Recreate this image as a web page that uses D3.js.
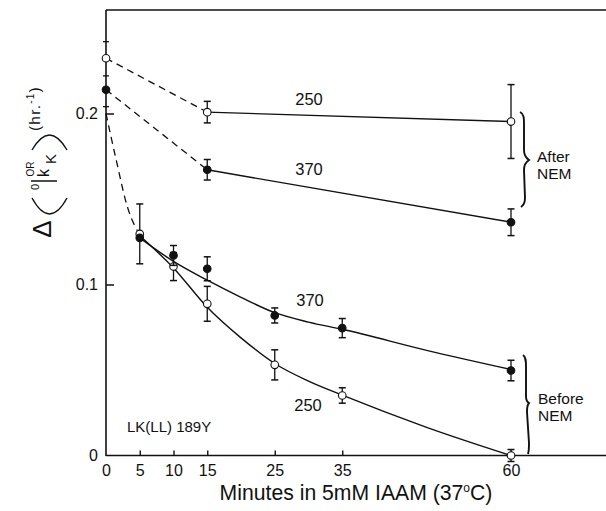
<!DOCTYPE html>
<html>
<head>
<meta charset="utf-8">
<script src="https://cdn.jsdelivr.net/npm/d3@7"></script>
<style>
  html, body { margin: 0; padding: 0; background: #fff; }
  svg { display: block; }
  text { font-family: "Liberation Sans", Arial, Helvetica, sans-serif; fill: #111; }
</style>
</head>
<body>
<svg id="chart" width="606" height="511"></svg>
<script>
// Time points (minutes in IAAM) and tick labels
const xTickValues = [0, 5, 10, 15, 25, 35, 60];
const xTickLabels = ["0", "5", "10", "15", "25", "35", "60"];
const yTickValues = [0, 0.1, 0.2];
const yTickLabels = ["0", "0.1", "0.2"];
const yMinorTicks = [0.204, 0.222, 0.242];

// After NEM
const after250X = [0, 15, 60];
const after250Y = [0.2323, 0.2008, 0.1953];
const after250Err = [0, 0.0063, 0.0216];
const after370X = [0, 15, 60];
const after370Y = [0.2139, 0.1671, 0.1364];
const after370Err = [0, 0.006, 0.0078];

// Before NEM
const before370X = [5, 10, 15, 25, 35, 60];
const before370Y = [0.1273, 0.117, 0.1092, 0.0819, 0.0745, 0.0497];
const before370Err = [0, 0.0058, 0.007, 0.0044, 0.0056, 0.006];
const before250X = [5, 10, 15, 25, 35, 60];
const before250Y = [0.1296, 0.1105, 0.0887, 0.053, 0.0351, 0.0];
const before250Err = [0.0175, 0.0082, 0.0102, 0.0088, 0.0045, 0.0035];

// Hand-fitted smooth curves through the before-NEM data
const fit370X = [5, 10, 15, 20, 25, 30, 35, 47.5, 60];
const fit370Y = [0.1273, 0.1135, 0.1025, 0.0925, 0.0835, 0.078, 0.0738, 0.0615, 0.0503];
const fit250X = [5, 10, 15, 20, 25, 30, 35, 47.5, 60];
const fit250Y = [0.1285, 0.1097, 0.0867, 0.0688, 0.0538, 0.0435, 0.0353, 0.0165, 0.0];

// Dashed extrapolation from time zero to the first before-NEM point
const dropX = [0, 1.5, 3.2, 5];
const dropY = [0.2, 0.173, 0.145, 0.129];

const svg = d3.select("#chart");
const plotLeft = 106, plotTop = 10, plotBottom = 455.5, plotRight = 606;

const x = d3.scaleLinear().domain([0, 60]).range([106, 511]);
const y = d3.scaleLinear().domain([0, 0.26]).range([plotBottom, 10.9]);

const ink = "#111";

// Frame: left axis, top rule, bottom rule
svg.append("line").attr("x1", plotLeft).attr("x2", plotLeft).attr("y1", plotTop).attr("y2", plotBottom + 0.5)
  .attr("stroke", ink).attr("stroke-width", 1.6);
svg.append("line").attr("x1", plotLeft).attr("x2", plotRight).attr("y1", plotTop).attr("y2", plotTop)
  .attr("stroke", ink).attr("stroke-width", 1.5);
svg.append("line").attr("x1", plotLeft).attr("x2", plotRight).attr("y1", plotBottom).attr("y2", plotBottom)
  .attr("stroke", ink).attr("stroke-width", 1.5);

// X axis
const xAxis = d3.axisBottom(x)
  .tickValues(xTickValues)
  .tickFormat((d, i) => xTickLabels[i])
  .tickSizeInner(-5).tickSizeOuter(0).tickPadding(9);
const gx = svg.append("g").attr("transform", `translate(0,${plotBottom})`).call(xAxis);
gx.select(".domain").remove();
gx.selectAll(".tick line").attr("stroke", ink).attr("stroke-width", 1.4)
  .filter(d => d === 0).remove();
gx.selectAll(".tick text").attr("font-size", 16).attr("fill", ink)
  .style("font-family", "'Liberation Sans', Arial, sans-serif");

// Y axis
const yAxis = d3.axisLeft(y)
  .tickValues(yTickValues)
  .tickFormat((d, i) => yTickLabels[i])
  .tickSizeInner(-8).tickSizeOuter(0).tickPadding(8);
const gy = svg.append("g").attr("transform", `translate(${plotLeft},0)`).call(yAxis);
gy.select(".domain").remove();
gy.selectAll(".tick line").attr("stroke", ink).attr("stroke-width", 1.5)
  .filter(d => d === 0).remove();
gy.selectAll(".tick text").attr("font-size", 16).attr("fill", ink)
  .style("font-family", "'Liberation Sans', Arial, sans-serif");

// Minor ticks crossing the y axis
svg.append("g").selectAll("line").data(yMinorTicks).join("line")
  .attr("x1", plotLeft - 3).attr("x2", plotLeft + 3)
  .attr("y1", d => y(d)).attr("y2", d => y(d))
  .attr("stroke", ink).attr("stroke-width", 1.3);

const zip = (xs, ys) => xs.map((v, i) => [v, ys[i]]);
const line = d3.line().x(d => x(d[0])).y(d => y(d[1]));
const smooth = d3.line().x(d => x(d[0])).y(d => y(d[1])).curve(d3.curveMonotoneX);

// Dashed segments
svg.append("path").attr("d", line(zip(after250X.slice(0, 2), after250Y.slice(0, 2))))
  .attr("fill", "none").attr("stroke", ink).attr("stroke-width", 1.3).attr("stroke-dasharray", "7,5");
svg.append("path").attr("d", line(zip(after370X.slice(0, 2), after370Y.slice(0, 2))))
  .attr("fill", "none").attr("stroke", ink).attr("stroke-width", 1.3).attr("stroke-dasharray", "7,5");
svg.append("path").attr("d", smooth(zip(dropX, dropY)))
  .attr("fill", "none").attr("stroke", ink).attr("stroke-width", 1.3).attr("stroke-dasharray", "7,5");

// Solid after-NEM segments
svg.append("path").attr("d", line(zip(after250X.slice(1), after250Y.slice(1))))
  .attr("fill", "none").attr("stroke", ink).attr("stroke-width", 1.4);
svg.append("path").attr("d", line(zip(after370X.slice(1), after370Y.slice(1))))
  .attr("fill", "none").attr("stroke", ink).attr("stroke-width", 1.4);

// Fitted before-NEM curves
svg.append("path").attr("d", smooth(zip(fit370X, fit370Y)))
  .attr("fill", "none").attr("stroke", ink).attr("stroke-width", 1.4);
svg.append("path").attr("d", smooth(zip(fit250X, fit250Y)))
  .attr("fill", "none").attr("stroke", ink).attr("stroke-width", 1.4);

// Error bars and markers
function series(xs, ys, errs, filled) {
  const data = xs.map((v, i) => ({ x: v, y: ys[i], e: errs[i] }));
  const g = svg.append("g");
  const eb = g.selectAll("g.eb").data(data.filter(d => d.e > 0)).join("g");
  eb.append("line")
    .attr("x1", d => x(d.x)).attr("x2", d => x(d.x))
    .attr("y1", d => y(d.y + d.e)).attr("y2", d => y(d.y - d.e))
    .attr("stroke", ink).attr("stroke-width", 1.3);
  eb.append("line")
    .attr("x1", d => x(d.x) - 3.5).attr("x2", d => x(d.x) + 3.5)
    .attr("y1", d => y(d.y + d.e)).attr("y2", d => y(d.y + d.e))
    .attr("stroke", ink).attr("stroke-width", 1.5);
  eb.append("line")
    .attr("x1", d => x(d.x) - 3.5).attr("x2", d => x(d.x) + 3.5)
    .attr("y1", d => y(d.y - d.e)).attr("y2", d => y(d.y - d.e))
    .attr("stroke", ink).attr("stroke-width", 1.5);
  g.selectAll("circle").data(data).join("circle")
    .attr("cx", d => x(d.x)).attr("cy", d => y(d.y)).attr("r", 3.8)
    .attr("fill", filled ? ink : "#fff").attr("stroke", ink).attr("stroke-width", 1.1);
}
series(after250X, after250Y, after250Err, false);
series(after370X, after370Y, after370Err, true);
series(before250X, before250Y, before250Err, false);
series(before370X, before370Y, before370Err, true);

// Curve labels
const lab = (t, cx, cy, fs) => svg.append("text").attr("x", cx).attr("y", cy)
  .attr("text-anchor", "middle").attr("dominant-baseline", "central")
  .attr("font-size", fs).text(t);
lab("250", 309, 99, 16.5);
lab("370", 309, 169, 16.5);
lab("370", 310, 300, 16.5);
lab("250", 308, 405, 16.5);
svg.append("text").attr("x", 127).attr("y", 432).attr("font-size", 15).text("LK(LL) 189Y");

// Braces with group labels
svg.append("path")
  .attr("d", "M520,112 C524,114 524,118 524,124 L524,150 C524,156 526,158 529,160 C526,162 524,164 524,170 L525,198 C525,203 524,205 521,207")
  .attr("fill", "none").attr("stroke", ink).attr("stroke-width", 1.9);
svg.append("path")
  .attr("d", "M523,355 C526,357 526,361 526,367 L526,396 C526,400 527,402 529,403 C527,405 527,408 527,412 L529,443 C529,448 529,451 528,454")
  .attr("fill", "none").attr("stroke", ink).attr("stroke-width", 1.9);
svg.append("text").attr("x", 537).attr("y", 162).attr("font-size", 15.5).text("After");
svg.append("text").attr("x", 537).attr("y", 178.5).attr("font-size", 15.5).text("NEM");
svg.append("text").attr("x", 538).attr("y", 403.5).attr("font-size", 15.5).text("Before");
svg.append("text").attr("x", 538).attr("y", 421).attr("font-size", 15.5).text("NEM");

// X axis title
const xt = svg.append("text").attr("x", 356).attr("y", 500).attr("text-anchor", "middle")
  .attr("font-size", 21.2);
xt.append("tspan").text("Minutes in 5mM IAAM (37");
xt.append("tspan").attr("font-size", 12).attr("dy", -8).text("o");
xt.append("tspan").attr("dy", 8).text("C)");

// Y axis title, built piece by piece and rotated
const rot = (t, cx, cy, fs) => svg.append("text")
  .attr("transform", `translate(${cx},${cy}) rotate(-90)`)
  .attr("text-anchor", "middle").attr("dominant-baseline", "central")
  .attr("font-size", fs).text(t);
rot("\u0394", 42, 229, 26);
svg.append("path").attr("d", "M32,198 Q49.5,230 67,198")
  .attr("fill", "none").attr("stroke", ink).attr("stroke-width", 1.4);
rot("0", 35, 187, 11);
svg.append("line").attr("x1", 31).attr("x2", 57).attr("y1", 181).attr("y2", 181)
  .attr("stroke", ink).attr("stroke-width", 1.5);
rot("k", 43, 173, 16);
rot("OR", 30, 169, 10);
rot("K", 50, 159, 15);
svg.append("path").attr("d", "M32,150 Q49.5,120 67,150")
  .attr("fill", "none").attr("stroke", ink).attr("stroke-width", 1.4);
const yt = svg.append("text").attr("transform", "translate(40,131) rotate(-90)")
  .attr("font-size", 15.5).attr("letter-spacing", 1.2);
yt.append("tspan").text("(hr.");
yt.append("tspan").attr("font-size", 10).attr("dy", -6).text("-1");
yt.append("tspan").attr("dy", 6).text(")");
</script>
</body>
</html>
